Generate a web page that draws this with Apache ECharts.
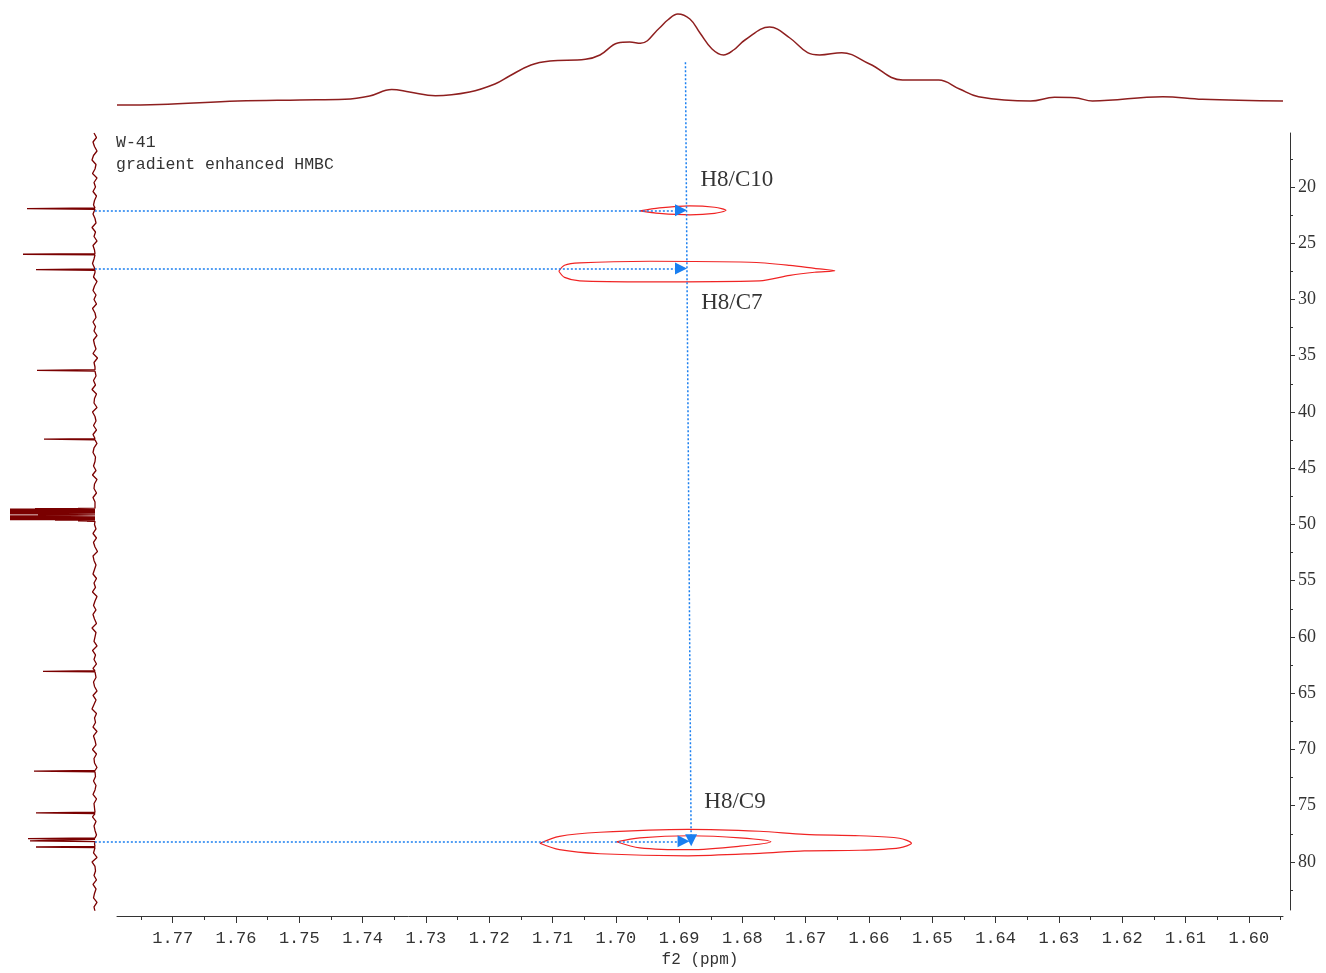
<!DOCTYPE html>
<html><head><meta charset="utf-8">
<script src="https://cdn.jsdelivr.net/npm/echarts@6/dist/echarts.min.js"></script>
<style>html,body{margin:0;padding:0;background:#fff}#c{width:1326px;height:973px}</style>
</head><body><div id="c"></div>
<script>
// ---------- axes / ticks ----------
const f2Min = 1.5946, f2Max = 1.7788;      // 1H (ppm), horizontal, inverted
const f1Min = 15.2,  f1Max = 84.27;        // 13C (ppm), vertical, inverted
const xTickValues = [1.60,1.61,1.62,1.63,1.64,1.65,1.66,1.67,1.68,1.69,1.70,1.71,1.72,1.73,1.74,1.75,1.76,1.77];
const xMinorTicks = [1.595,1.605,1.615,1.625,1.635,1.645,1.655,1.665,1.675,1.685,1.695,1.705,1.715,1.725,1.735,1.745,1.755,1.765,1.775];
const yTickValues = [20,25,30,35,40,45,50,55,60,65,70,75,80];
const yMinorTicks = [17.5,22.5,27.5,32.5,37.5,42.5,47.5,52.5,57.5,62.5,67.5,72.5,77.5,82.5];

// ---------- top 1H projection ----------
const topPpm = [1.7788,1.7721,1.7597,1.7499,1.7428,1.7389,1.7354,1.7326,1.7285,1.7231,1.7191,1.7168,1.7134,1.7104,1.7048,1.7025,1.6997,1.6978,1.6961,1.6931,1.6918,1.6902,1.6883,1.6867,1.6848,1.6830,1.6814,1.6796,1.6757,1.6725,1.6697,1.6678,1.6643,1.6599,1.6547,1.6490,1.6457,1.6427,1.6345,1.6307,1.6275,1.6247,1.6136,1.6073,1.5946];
const topInt = [5,5.5,9,10,10.7,14,20.5,18,14.3,18,26,34,45,49,50.7,55,67,68,66.7,82,90,96,91,77,61,55,60,70,83,72,57.3,55,57.3,46,30,30,21,13.3,9,12.7,12.3,9,13.3,10.7,9];

// ---------- left 13C projection ----------
const c13PeakPpm = [21.92,25.98,27.35,36.30,42.42,63.05,71.93,75.64,77.92,78.13,78.67];
const c13PeakInt = [68,72,59,58,51,52,61,59,67,65,59];
const solventPpm = [48.56,48.60,48.63,48.66,48.69,48.72,48.75,48.78,48.81,48.84,48.87,48.90,48.93,48.96,49.00,49.05,49.10,49.15,49.20,49.25,49.30,49.35,49.38,49.41,49.44,49.47,49.50,49.53,49.56,49.60,49.64,49.68,49.72];
const solventInt = [17,60,95,95,95,95,95,95,95,95,95,95,95,95,60,95,40,57,40,95,57,95,95,95,95,95,95,95,95,40,17,17,8];
const noiseStart = 15.2, noiseStep = 0.4;
const noiseInt = [
 1,-1.5,2,0.5,-2,1.5,3,-1,0,2.5,-2,1,-0.5,2,-1.5,0.5,1.5,-2.5,2,0,-1,3,-0.5,1,-2,
 2,0.5,-1.5,1,2.5,-1,0,1.5,-2,0.5,2,-1,1,-1.5,2.5,0,-1,2,-0.5,1,-2,1.5,0.5,-1,2,
 -2.5,1,0,2,-1,1.5,-0.5,3,-1.5,0.5,1,-2,2.5,0,-1,1.5,-1.5,2,0.5,-2,1,2,-0.5,0,1.5,
 -1,2.5,-2,0.5,1,-1.5,2,0,-0.5,3,-2,1,0.5,-1,2,-1.5,1.5,0,-2.5,2,1,-1,0.5,2,-1.5,
 1,-0.5,2.5,-2,0,1.5,-1,2,0.5,-1.5,3,-1,0,1,-2,2.5,-0.5,1,-1.5,2,0,-1,1.5,0.5,-2,
 2,-1,1,3,-1.5,0.5,-0.5,2,-2,1.5,0,-1,2.5,-1.5,1,0.5,-2,2,-0.5,1.5,-1,0,2,-1.5,1,
 0.5,-2,2.5,-1,1,0,-1.5,2,0.5,-1,1.5,-2,3,0,-0.5,1,-1.5,2,-1,0.5,1.5,-2,1,0,2];

// ---------- HMBC contours (f2 ppm, f1 ppm) ----------
const c10H = [1.6962,1.6931,1.6883,1.6844,1.6826,1.6844,1.6883,1.6931,1.6962];
const c10C = [22.12,21.85,21.67,21.80,22.07,22.34,22.47,22.34,22.12];
const c7H  = [1.7090,1.7081,1.7057,1.6946,1.6788,1.6725,1.6686,1.6654,1.6686,1.6725,1.6773,1.6946,1.7057,1.7081,1.7090];
const c7C  = [27.49,26.96,26.74,26.60,26.69,26.96,27.23,27.45,27.58,27.85,28.34,28.43,28.34,28.03,27.49];
const c9outH = [1.7120,1.7089,1.7025,1.6886,1.6773,1.6702,1.6615,1.6552,1.6533,1.6552,1.6615,1.6702,1.6773,1.6886,1.7025,1.7089,1.7120];
const c9outC = [78.34,77.72,77.36,77.10,77.27,77.54,77.67,77.89,78.34,78.74,78.96,79.01,79.23,79.45,79.27,78.91,78.34];
const c9inH = [1.6999,1.6962,1.6883,1.6804,1.6755,1.6804,1.6883,1.6962,1.6999];
const c9inC = [78.20,77.85,77.67,77.85,78.20,78.60,78.91,78.74,78.20];

// ---------- correlation arrows & labels ----------
const arrowFromH = [1.7823,1.7823,1.7823,1.6890];
const arrowFromC = [22.07,27.25,78.16,8.92];
const arrowToH   = [1.6897,1.6897,1.6893,1.6881];
const arrowToC   = [22.07,27.25,78.16,78.07];
const labelText = ['H8/C10','H8/C7','H8/C9'];
const labelH = [1.6867,1.6866,1.6861];
const labelC = [19.40,30.34,74.65];

// ---------- build ----------
const zip = (a,b) => a.map((v,i)=>[v,b[i]]);
const leftPts = [];
const allPeaks = c13PeakPpm.concat(solventPpm);
noiseInt.forEach((v,i)=>{
  const p = noiseStart + i*noiseStep;
  if (p > 48.35 && p < 49.85) return;
  if (allPeaks.some(q => Math.abs(q-p) < 0.2)) return;
  leftPts.push([v,p]);
});
const addPeak = (p,h,w)=>{ leftPts.push([0,p-w]); leftPts.push([h,p]); leftPts.push([0,p+w]); };
c13PeakPpm.forEach((p,i)=>addPeak(p,c13PeakInt[i],0.06));
solventPpm.forEach((p,i)=>addPeak(p,solventInt[i],0.012));
leftPts.sort((a,b)=>a[1]-b[1]);

const contour = (h,c) => ({
  type:'line', xAxisIndex:0, yAxisIndex:0, data: zip(h,c), showSymbol:false, smooth:0.3,
  lineStyle:{color:'#f02424', width:1.2}, silent:true, z:3
});

const chart = echarts.init(document.getElementById('c'));
chart.setOption({
  animation:false,
  backgroundColor:'#fff',
  title:{
    text:'W-41\ngradient enhanced HMBC', left:116, top:131, padding:0,
    textStyle:{fontFamily:'Liberation Mono', fontSize:16.5, fontWeight:'normal', color:'#333', lineHeight:22.5}
  },
  grid:[
    {left:117, right:43, top:133, height:777},
    {left:11, width:90, top:133, height:777},
    {left:117, right:43, top:0, height:110}
  ],
  xAxis:[
    {gridIndex:0, type:'value', min:f2Min, max:f2Max, inverse:true, position:'bottom', offset:6,
     axisLine:{lineStyle:{color:'#333', width:1}},
     axisTick:{customValues:xTickValues, length:7, lineStyle:{color:'#333'}},
     axisLabel:{customValues:xTickValues, formatter:v=>v.toFixed(2), margin:14,
       fontFamily:'Liberation Mono', fontSize:17, color:'#333'},
     splitLine:{show:false},
     name:'f2 (ppm)', nameLocation:'middle', nameGap:35,
     nameTextStyle:{fontFamily:'Liberation Mono', fontSize:16, color:'#333'}},
    {gridIndex:0, type:'value', min:f2Min, max:f2Max, inverse:true, position:'bottom', offset:6,
     axisLine:{show:false},
     axisTick:{customValues:xMinorTicks, length:4, lineStyle:{color:'#333'}},
     axisLabel:{show:false}, splitLine:{show:false}},
    {gridIndex:1, type:'value', min:-6, max:84, inverse:true, show:false},
    {gridIndex:2, type:'value', min:f2Min, max:f2Max, inverse:true, show:false}
  ],
  yAxis:[
    {gridIndex:0, type:'value', min:f1Min, max:f1Max, inverse:true, position:'right', offset:7,
     axisLine:{show:true, lineStyle:{color:'#333', width:1}},
     axisTick:{show:true, customValues:yTickValues, length:5, lineStyle:{color:'#333'}},
     axisLabel:{customValues:yTickValues, margin:8, fontFamily:'Liberation Serif', fontSize:18, color:'#333'},
     splitLine:{show:false}},
    {gridIndex:0, type:'value', min:f1Min, max:f1Max, inverse:true, position:'right', offset:7,
     axisLine:{show:false},
     axisTick:{show:true, customValues:yMinorTicks, length:3, lineStyle:{color:'#333'}},
     axisLabel:{show:false}, splitLine:{show:false}},
    {gridIndex:1, type:'value', min:f1Min, max:f1Max, inverse:true, show:false},
    {gridIndex:2, type:'value', min:0, max:110, show:false}
  ],
  series:[
    {type:'line', xAxisIndex:3, yAxisIndex:3, data:zip(topPpm, topInt), showSymbol:false, smooth:0.4,
     lineStyle:{color:'#8e1f1f', width:1.5}, silent:true},
    {type:'line', xAxisIndex:2, yAxisIndex:2, data:leftPts, showSymbol:false,
     lineStyle:{color:'#7a0000', width:1.3}, silent:true},
    contour(c10H,c10C), contour(c7H,c7C), contour(c9outH,c9outC), contour(c9inH,c9inC),
    {type:'lines', coordinateSystem:'cartesian2d', xAxisIndex:0, yAxisIndex:0, clip:false, z:5,
     symbol:['none','triangle'], symbolSize:[9,12], silent:true,
     lineStyle:{color:'#1a7ff0', width:1.5, type:[2,2], opacity:1},
     data: arrowFromH.map((h,i)=>({coords:[[h,arrowFromC[i]],[arrowToH[i],arrowToC[i]]]}))},
    {type:'scatter', xAxisIndex:0, yAxisIndex:0, symbolSize:1, itemStyle:{color:'transparent'}, silent:true, z:6,
     data: labelText.map((t,i)=>({name:t, value:[labelH[i], labelC[i]]})),
     label:{show:true, position:'right', distance:0, formatter:p=>p.name,
       fontFamily:'Liberation Serif', fontSize:23, color:'#000'}}
  ]
});
</script></body></html>
